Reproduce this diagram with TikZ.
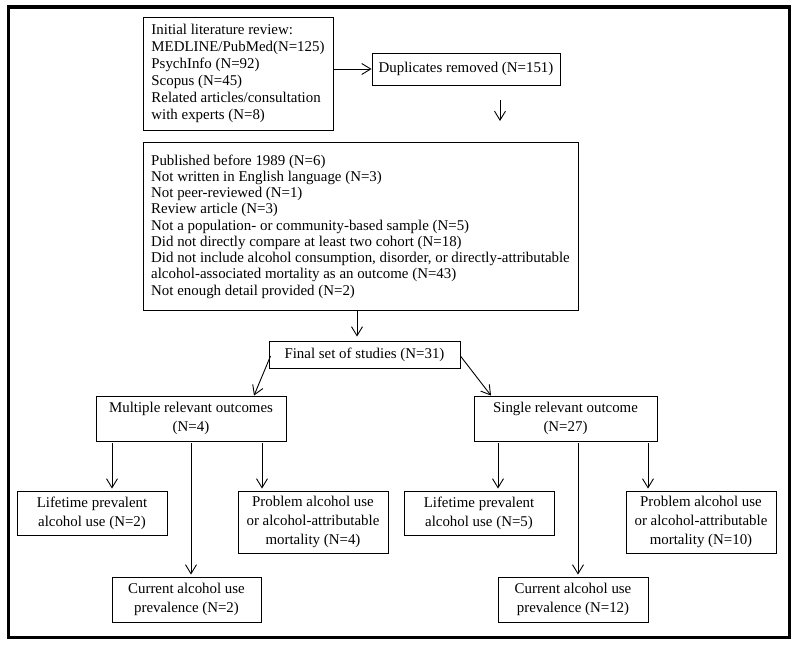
\documentclass[tikz,border=0pt]{standalone}
\usepackage{fontspec}
\setmainfont{Liberation Serif}
\usetikzlibrary{arrows.meta}
\begin{document}
\begin{tikzpicture}[x=1pt,y=-1pt,
  box/.style={draw, line width=0.9pt, inner sep=0pt, font=\fontsize{14.9}{18.8}\selectfont, align=center},
  lbox/.style={box, align=left},
  arr/.style={line width=0.9pt, -{Straight Barb[length=9pt,width=11pt,line width=0.9pt]}},
  varr/.style={arr, shorten <=2pt, shorten >=2pt}]
\useasboundingbox (0,0) rectangle (800,650);
\fill[white] (0,0) rectangle (800,650);
\draw[line width=3.5pt] (8.5,7) rectangle (789.5,637.5);

\node[lbox, minimum width=190pt, minimum height=113pt, font=\fontsize{14.9}{17}\selectfont] (lit) at (238,73.5)
  {Initial literature review:\\MEDLINE/PubMed(N=125)\\PsychInfo (N=92)\\Scopus (N=45)\\Related articles/consultation\\with experts (N=8)};
\node[box, minimum width=188pt, minimum height=32pt] (dup) at (466,69) {Duplicates removed (N=151)};
\coordinate (d1) at (500,100);
\coordinate (d2) at (500,121);

\node[lbox, minimum width=435pt, minimum height=168pt, font=\fontsize{14.9}{16.25}\selectfont] (excl) at (360.5,226.5)
  {Published before 1989 (N=6)\\Not written in English language (N=3)\\Not peer-reviewed (N=1)\\Review article (N=3)\\Not a population- or community-based sample (N=5)\\Did not directly compare at least two cohort (N=18)\\Did not include alcohol consumption, disorder, or directly-attributable\\alcohol-associated mortality as an outcome (N=43)\\Not enough detail provided (N=2)};

\node[box, minimum width=191pt, minimum height=27pt] (final) at (364.5,354.5) {Final set of studies (N=31)};

\node[box, minimum width=190pt, minimum height=45pt] (mult) at (191,418.5) {Multiple relevant outcomes\\(N=4)};
\node[box, minimum width=183pt, minimum height=45pt] (single) at (565.5,418.5) {Single relevant outcome\\(N=27)};

\node[box, minimum width=150pt, minimum height=44pt] (lifeL) at (92,513) {Lifetime prevalent\\alcohol use (N=2)};
\node[box, minimum width=150pt, minimum height=62pt] (probL) at (313,522) {Problem alcohol use\\or alcohol-attributable\\mortality (N=4)};
\node[box, minimum width=149pt, minimum height=45pt] (curL) at (186.5,599.5) {Current alcohol use\\prevalence (N=2)};

\node[box, minimum width=150pt, minimum height=44pt] (lifeR) at (479,513) {Lifetime prevalent\\alcohol use (N=5)};
\node[box, minimum width=150pt, minimum height=62pt] (probR) at (701,522) {Problem alcohol use\\or alcohol-attributable\\mortality (N=10)};
\node[box, minimum width=150pt, minimum height=45pt] (curR) at (573,599.5) {Current alcohol use\\prevalence (N=12)};

\draw[arr] (lit.east |- dup.west) -- (dup.west);
\draw[arr] (d1) -- (d2);
\draw[arr, shorten >=4pt] ([xshift=-3.5pt]excl.south) -- ([xshift=-7.5pt]final.north);
\draw[arr] ([xshift=2pt,yshift=-1.5pt]final.west) -- ([xshift=63pt]mult.north);
\draw[arr] ([yshift=-1.5pt]final.east) -- ([xshift=-74.5pt]single.north);

\draw[varr] ([xshift=-79pt]mult.south) -- ([xshift=20pt]lifeL.north);
\draw[varr] (mult.south) -- ([xshift=4.5pt]curL.north);
\draw[varr] ([xshift=71pt]mult.south) -- ([xshift=-51pt]probL.north);

\draw[varr] ([xshift=-67.5pt]single.south) -- ([xshift=19pt]lifeR.north);
\draw[varr] ([xshift=12.5pt]single.south) -- ([xshift=5pt]curR.north);
\draw[varr] ([xshift=82.5pt]single.south) -- ([xshift=-53pt]probR.north);
\end{tikzpicture}
\end{document}
